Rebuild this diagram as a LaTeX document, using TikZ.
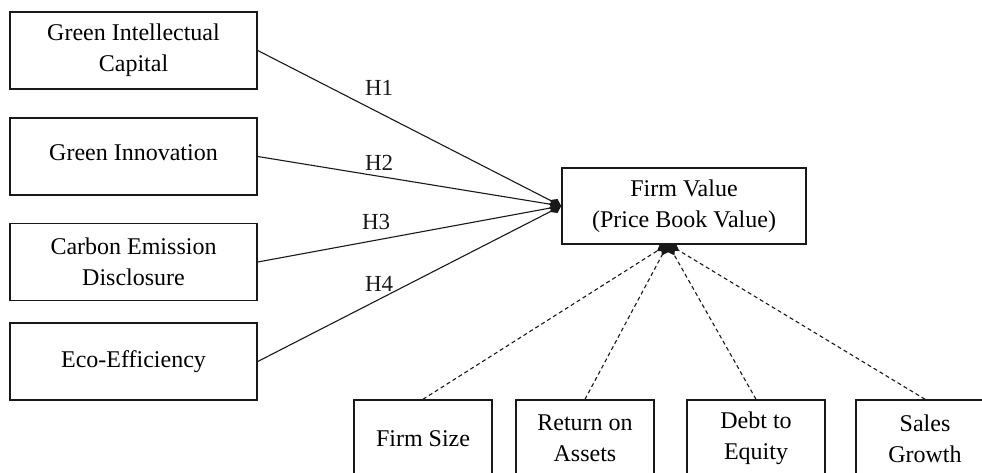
\documentclass[tikz,border=0pt]{standalone}
\usepackage{fontspec}
\setmainfont{Liberation Serif}
\usetikzlibrary{arrows.meta}
\colorlet{myline}{black!90}

\begin{document}
\begin{tikzpicture}[x=1pt,y=-1pt]
\tikzset{VarStyle/.style ={draw=myline, line width=1.5pt, minimum width=247pt,
  minimum height=77pt, align=center, inner sep=0pt, font=\fontsize{24}{31}\selectfont}}
\tikzset{CtrlStyle/.style ={VarStyle, minimum width=138pt}}
\tikzset{HypStyle/.style ={-{Diamond[length=13pt,width=9pt]}, color=myline, line width=1.1pt}}
\tikzset{CtrlEdge/.style ={HypStyle, dash pattern=on 4pt off 3pt}}
\tikzset{LabStyle/.style ={font=\fontsize{23}{28}\selectfont, inner sep=0pt}}
\useasboundingbox (0,0) rectangle (982,473);
\clip (0,0) rectangle (982,473);
% independent variables
\node[VarStyle] (GIC) at (133.5,50.5) {Green Intellectual\\Capital};
\node[VarStyle] (GI) at (133.5,156.5) {\raisebox{7pt}{Green Innovation}};
\node[VarStyle] (CED) at (133.5,262) {Carbon Emission\\Disclosure};
\node[VarStyle] (EE) at (133.5,361.5) {Eco-Efficiency};
% dependent variable
\node[VarStyle, minimum width=244pt, minimum height=76pt] (FV) at (684,206) {Firm Value\\(Price Book Value)};
\coordinate (FVin) at (668,244);
% control variables
\node[CtrlStyle] (FS) at (423,438.5) {Firm Size};
\node[CtrlStyle] (ROA) at (585,438.5) {Return on\\Assets};
\node[CtrlStyle] (DER) at (756,438.5) {Debt to\\Equity};
\node[CtrlStyle] (SG) at (925,438.5) {Sales\\Growth};
% hypotheses
\draw[HypStyle] (GIC.east) -- (FV.west) node[LabStyle, pos=0.4, yshift=25pt] (h1) {H1};
\draw[HypStyle] (GI.east) -- (FV.west) node[LabStyle, pos=0.4, yshift=13pt] (h2) {H2};
\draw[HypStyle] (CED.east) -- (FV.west) node[LabStyle, pos=0.39, yshift=18pt] (h3) {H3};
\draw[HypStyle] (EE.east) -- (FV.west) node[LabStyle, pos=0.4, yshift=15pt] (h4) {H4};
% controls
\draw[CtrlEdge] (FS.north) -- (FVin);
\draw[CtrlEdge] (ROA.north) -- (FVin);
\draw[CtrlEdge] (DER.north) -- (FVin);
\draw[CtrlEdge] (SG.north) -- (FVin);
\end{tikzpicture}
\end{document}
